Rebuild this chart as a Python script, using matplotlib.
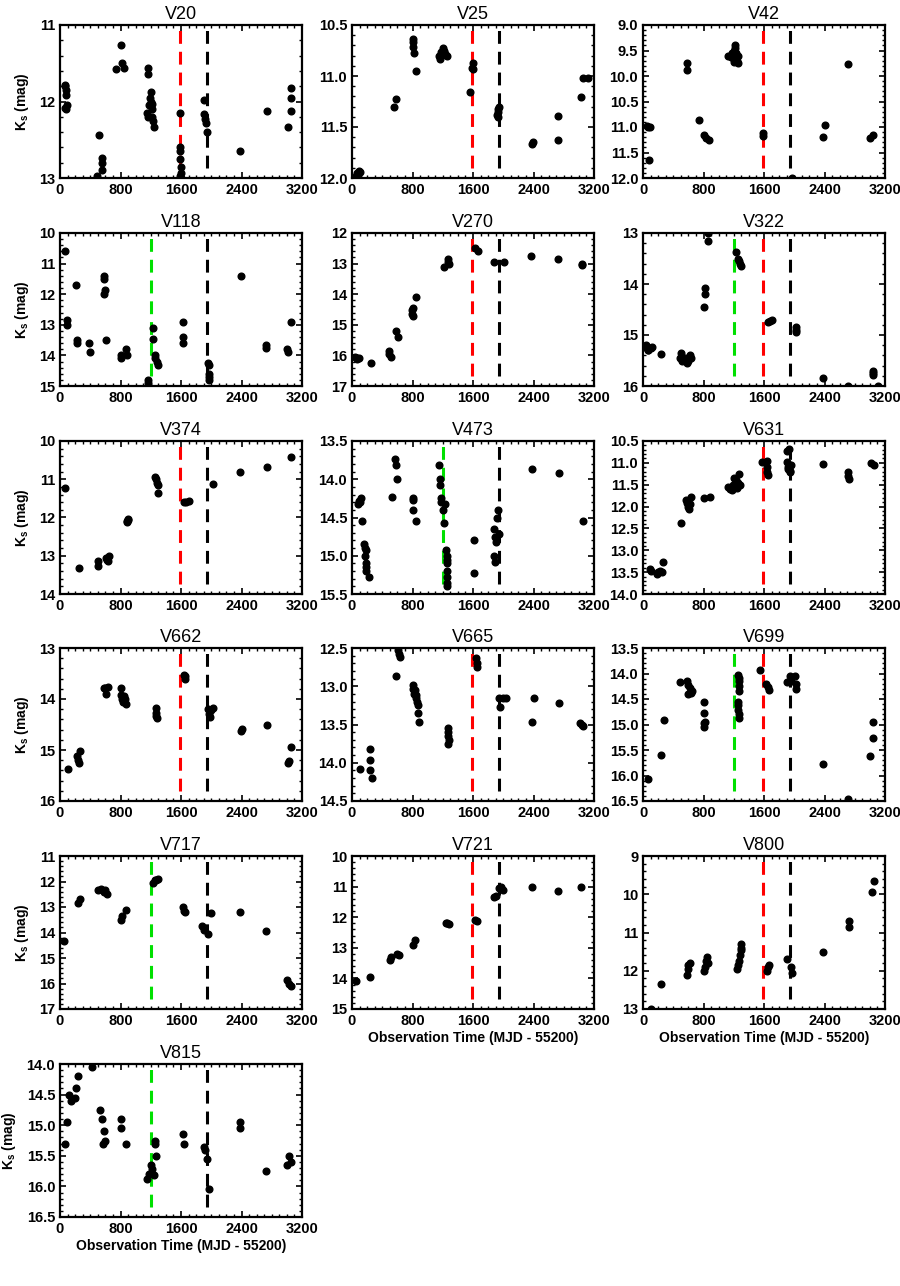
import matplotlib
matplotlib.use("Agg")
import matplotlib.pyplot as plt
from matplotlib.ticker import MultipleLocator, FormatStrFormatter

plt.rcParams['font.family'] = ['Liberation Sans', 'DejaVu Sans']
plt.rcParams['mathtext.fontset'] = 'custom'
plt.rcParams['mathtext.rm'] = 'Liberation Sans'
plt.rcParams['mathtext.bf'] = 'Liberation Sans:bold'

# ---------------- data ----------------
names = ["V20", "V25", "V42", "V118", "V270", "V322", "V374", "V473", "V631",
         "V662", "V665", "V699", "V717", "V721", "V800", "V815"]

v20_t = [60, 70, 80, 85, 90, 75, 65, 520, 560, 560, 555, 490, 735, 800, 820, 850,
         1170, 1170, 1200, 1190, 1200, 1210, 1180, 1150, 1160, 1220, 1230, 1240, 1210,
         1585, 1590, 1590, 1590, 1595, 1595, 1600, 1585,
         1910, 1910, 1915, 1925, 1940, 2380, 2735, 3010, 3050, 3050, 3050]
v20_k = [12.08, 11.78, 11.85, 11.92, 12.05, 12.1, 11.8, 12.44, 12.74, 12.8, 12.9, 12.98, 11.58, 11.26, 11.5, 11.56,
         11.56, 11.64, 11.88, 11.95, 12.0, 12.03, 12.05, 12.15, 12.2, 12.2, 12.25, 12.33, 12.1,
         12.15, 12.6, 12.65, 12.75, 12.85, 12.93, 13.0, 12.98,
         11.98, 12.16, 12.23, 12.28, 12.4, 12.65, 12.13, 12.33, 11.82, 11.95, 12.12]

v25_t = [50, 70, 90, 100, 60, 80, 555, 585, 800, 805, 810, 815, 850,
         1150, 1170, 1190, 1200, 1210, 1220, 1240, 1260, 1180,
         1565, 1600, 1600, 1590, 1925, 1935, 1920, 1930, 1940,
         2375, 2390, 2730, 2730, 3025, 3055, 3120]
v25_k = [11.98, 11.95, 11.93, 11.94, 12.0, 11.97, 11.3, 11.23, 10.64, 10.67, 10.72, 10.77, 10.95,
         10.8, 10.83, 10.78, 10.73, 10.75, 10.76, 10.79, 10.8, 10.76,
         11.16, 10.87, 10.93, 10.92, 11.32, 11.35, 11.38, 11.4, 11.3,
         11.67, 11.65, 11.39, 11.63, 11.21, 11.02, 11.02]

v42_t = [65, 90, 80, 50, 580, 585, 740, 805, 830, 875,
         1130, 1160, 1180, 1190, 1200, 1210, 1220, 1230, 1240, 1250, 1220, 1200, 1260,
         1590, 1590, 1975, 2375, 2410, 2715, 3000, 3045]
v42_k = [11.0, 11.0, 11.65, 10.99, 9.74, 9.89, 10.86, 11.15, 11.22, 11.25,
         9.6, 9.62, 9.55, 9.65, 9.5, 9.45, 9.4, 9.55, 9.7, 9.75, 9.65, 9.72, 9.6,
         11.18, 11.12, 12.0, 11.2, 10.97, 9.77, 11.22, 11.15]

v118_t = [60, 90, 90, 210, 225, 225, 380, 400, 580, 580, 590, 580, 610, 800, 810, 870, 880,
          1165, 1170, 1160, 1230, 1230, 1250, 1260, 1280, 1290, 1630, 1630, 1630,
          1960, 1970, 1970, 1975, 1975, 2390, 2730, 2730, 3000, 3010, 3060]
v118_k = [10.6, 12.85, 13.0, 11.7, 13.5, 13.6, 13.6, 13.9, 11.4, 11.5, 11.85, 12.0, 13.5, 14.0, 14.1, 13.8, 14.0,
          14.8, 14.9, 15.0, 13.1, 13.45, 14.0, 14.1, 14.2, 14.3, 12.9, 13.4, 13.6,
          14.25, 14.3, 14.6, 14.7, 14.8, 11.4, 13.65, 13.75, 13.8, 13.9, 12.9]

v270_t = [45, 70, 90, 60, 255, 485, 495, 515, 585, 605, 790, 795, 800, 805, 850,
          1215, 1275, 1285, 1270, 1630, 1665, 1875, 2015, 2370, 2720, 3045, 3045]
v270_k = [16.05, 16.1, 16.1, 16.12, 16.25, 15.85, 15.95, 16.05, 15.2, 15.4, 14.5, 14.65, 14.7, 14.45, 14.1,
          13.1, 12.85, 13.0, 12.95, 12.5, 12.6, 12.95, 12.95, 12.75, 12.85, 13.0, 13.05]

v322_t = [40, 50, 70, 100, 120, 60, 235, 490, 500, 520, 560, 580, 620, 630, 600,
          805, 820, 820, 860, 860, 1235, 1260, 1270, 1280, 1290, 1655, 1680, 1700,
          2020, 2025, 2020, 2385, 2715, 3045, 3045, 3045, 3110]
v322_k = [15.2, 15.25, 15.3, 15.25, 15.24, 15.3, 15.38, 15.45, 15.35, 15.5, 15.45, 15.55, 15.4, 15.45, 15.5,
          14.46, 14.07, 14.2, 13.0, 13.15, 13.38, 13.5, 13.55, 13.6, 13.65, 14.75, 14.72, 14.7,
          14.85, 14.9, 14.95, 15.85, 16.0, 15.7, 15.78, 15.75, 16.0]

v374_t = [65, 255, 500, 500, 605, 620, 640, 650, 880, 895, 905, 890,
          1255, 1270, 1280, 1290, 1300, 1645, 1665, 1700, 2025, 2380, 2735, 3060]
v374_k = [11.24, 13.32, 13.14, 13.28, 13.05, 13.1, 13.15, 13.0, 12.1, 12.06, 12.05, 12.12,
          10.95, 11.0, 11.1, 11.15, 11.35, 11.6, 11.6, 11.58, 11.13, 10.8, 10.67, 10.43]

v473_t = [90, 110, 125, 80, 130, 165, 170, 180, 175, 180, 185, 190, 220,
          535, 575, 580, 600, 800, 805, 850, 810,
          1145, 1165, 1170, 1175, 1180, 1200, 1215, 1230,
          1240, 1250, 1260, 1250, 1260, 1250, 1260, 1255, 1610, 1610,
          1880, 1895, 1900, 1880, 1895, 1920, 1930, 1940, 2375, 2735, 3060]
v473_k = [14.28, 14.3, 14.25, 14.32, 14.55, 14.85, 14.9, 14.92, 15.0, 15.1, 15.15, 15.2, 15.28,
          14.23, 13.74, 13.82, 14.0, 14.25, 14.4, 14.55, 14.27,
          13.82, 14.0, 14.08, 14.25, 14.3, 14.4, 14.57, 14.32,
          14.92, 15.0, 15.05, 15.1, 15.2, 15.28, 15.35, 15.4, 14.8, 15.22,
          14.65, 14.75, 14.82, 15.0, 15.08, 14.5, 14.4, 14.72, 13.87, 13.92, 14.55]

v631_t = [90, 100, 190, 200, 230, 245, 270, 500, 570, 580, 600, 610, 620, 630, 805, 880,
          1120, 1150, 1180, 1190, 1200, 1220, 1260, 1270, 1280, 1240, 1230,
          1580, 1635, 1640, 1645, 1650, 1905, 1930, 1905, 1920, 1915, 1960, 1950, 1940,
          2375, 2710, 2715, 2720, 3020, 3050]
v631_k = [13.43, 13.47, 13.55, 13.5, 13.47, 13.5, 13.26, 12.38, 11.85, 11.92, 12.0, 12.05, 11.95, 11.77, 11.8, 11.77,
          11.55, 11.6, 11.62, 11.5, 11.35, 11.55, 11.45, 11.25, 11.5, 11.58, 11.4,
          10.98, 10.95, 11.1, 11.22, 11.28, 10.73, 10.68, 10.97, 11.1, 11.15, 11.05, 11.2, 11.18,
          11.02, 11.2, 11.3, 11.38, 11.0, 11.05]

v662_t = [100, 230, 240, 250, 260, 580, 600, 610, 640, 800, 810, 820, 830, 850, 870, 860,
          1265, 1270, 1280, 1275, 1645, 1650, 1655, 1960, 1995, 2020, 1980, 1970,
          2390, 2400, 2735, 3010, 3030, 3060]
v662_k = [15.37, 15.12, 15.2, 15.25, 15.02, 13.78, 13.78, 13.9, 13.77, 13.78, 13.92, 14.0, 14.05, 13.95, 14.1, 14.0,
          14.18, 14.28, 14.38, 14.33, 13.52, 13.6, 13.55, 14.2, 14.22, 14.18, 14.35, 14.3,
          14.62, 14.58, 14.5, 15.25, 15.22, 14.95]

v665_t = [100, 235, 240, 240, 270, 580, 610, 615, 630,
          800, 810, 820, 830, 840, 850, 870, 875, 880, 860,
          1265, 1275, 1270, 1280, 1265, 1640, 1650, 1655,
          1950, 1960, 2000, 2030, 2380, 2410, 2735, 3020, 3040, 3055]
v665_k = [14.08, 13.82, 13.97, 14.1, 14.2, 12.87, 12.53, 12.58, 12.62,
          12.98, 13.03, 13.1, 13.05, 13.12, 13.15, 13.25, 13.35, 13.47, 13.2,
          13.55, 13.6, 13.65, 13.7, 13.75, 12.63, 12.7, 12.75,
          13.15, 13.27, 13.15, 13.15, 13.47, 13.16, 13.22, 13.48, 13.5, 13.52]

v699_t = [65, 235, 275, 495, 585, 595, 600, 620, 650, 630, 805, 810, 810, 800, 815,
          1260, 1270, 1275, 1270, 1265, 1250, 1260, 1265, 1270, 1255,
          1545, 1630, 1650, 1660, 1905, 1940, 1960, 2010, 2020, 2020,
          2375, 2715, 3000, 3045, 3045]
v699_k = [16.07, 15.6, 14.92, 14.17, 14.15, 14.22, 14.4, 14.28, 14.35, 14.38, 14.55, 14.77, 14.97, 15.05, 14.95,
          14.02, 14.08, 14.15, 14.25, 14.35, 14.55, 14.72, 14.8, 14.87, 14.62,
          13.93, 14.2, 14.27, 14.32, 14.17, 14.05, 14.15, 14.05, 14.2, 14.3,
          15.77, 16.47, 15.62, 15.27, 14.95]

v717_t = [55, 235, 270, 500, 540, 580, 600, 620, 800, 820, 870,
          1230, 1260, 1290, 1270, 1630, 1640, 1650, 1880, 1900, 1960, 2000,
          2380, 2720, 3000, 3030, 3050]
v717_k = [14.35, 12.85, 12.7, 12.35, 12.3, 12.4, 12.35, 12.5, 13.5, 13.35, 13.1,
          12.05, 11.95, 11.9, 11.95, 13.0, 13.15, 13.2, 13.75, 13.9, 14.05, 13.25,
          13.2, 13.95, 15.85, 16.0, 16.1]

v721_t = [55, 235, 500, 520, 600, 620, 810, 830, 1240, 1260, 1280, 1620, 1650,
          1880, 1900, 1940, 1970, 2000, 2380, 2720, 3030]
v721_k = [14.1, 13.95, 13.4, 13.3, 13.2, 13.25, 12.9, 12.75, 12.2, 12.18, 12.22, 12.1, 12.12,
          11.35, 11.3, 11.05, 11.0, 11.1, 11.0, 11.15, 11.0]

v800_t = [100, 235, 580, 590, 600, 620, 800, 820, 830, 840, 860,
          1240, 1260, 1270, 1280, 1290, 1300, 1290, 1640, 1650, 1660,
          1900, 1960, 1970, 2380, 2720, 2720, 3030, 3050]
v800_k = [13.0, 12.35, 12.1, 11.95, 11.85, 11.8, 12.0, 11.9, 11.75, 11.65, 11.8,
          11.95, 11.85, 11.75, 11.6, 11.45, 11.3, 11.4, 12.0, 11.9, 11.85,
          11.7, 11.9, 12.05, 11.5, 10.7, 10.85, 9.95, 9.65]

v815_t = [60, 90, 120, 150, 200, 210, 235, 420, 530, 560, 580, 590, 570,
          800, 810, 870, 1150, 1180, 1200, 1220, 1240, 1250, 1260, 1270,
          1620, 1640, 1900, 1920, 1950, 1970, 2380, 2380, 2720, 3000, 3030, 3060]
v815_k = [15.3, 14.95, 14.5, 14.6, 14.55, 14.4, 14.2, 14.05, 14.75, 14.9, 15.1, 15.25, 15.3,
          14.9, 15.05, 15.3, 15.88, 15.8, 15.65, 15.72, 15.82, 15.3, 15.25, 15.5,
          15.15, 15.3, 15.35, 15.4, 15.55, 16.05, 14.95, 15.05, 15.75, 15.65, 15.5, 15.6]

times = [v20_t, v25_t, v42_t, v118_t, v270_t, v322_t, v374_t, v473_t, v631_t,
         v662_t, v665_t, v699_t, v717_t, v721_t, v800_t, v815_t]
mags = [v20_k, v25_k, v42_k, v118_k, v270_k, v322_k, v374_k, v473_k, v631_k,
        v662_k, v665_k, v699_k, v717_k, v721_k, v800_k, v815_k]

# y-axis limits (bright, faint) and major step
y_bright = [11, 10.5, 9.0, 10, 12, 13, 10, 13.5, 10.5, 13, 12.5, 13.5, 11, 10, 9, 14.0]
y_faint = [13, 12.0, 12.0, 15, 17, 16, 14, 15.5, 14.0, 16, 14.5, 16.5, 17, 15, 13, 16.5]
y_step = [1, 0.5, 0.5, 1, 1, 1, 1, 0.5, 0.5, 1, 0.5, 0.5, 1, 1, 1, 0.5]

# event epochs marked by dashed lines
epoch_green = 1205
epoch_red = 1590
epoch_black = 1945
lines_per_panel = [["r", "k"], ["r", "k"], ["r", "k"], ["g", "k"], ["r", "k"], ["g", "r", "k"],
                   ["r", "k"], ["g", "k"], ["r", "k"], ["r", "k"], ["r", "k"], ["g", "r", "k"],
                   ["g", "k"], ["r", "k"], ["r", "k"], ["g", "k"]]

x_ticks = [0, 800, 1600, 2400, 3200]

# ---------------- figure ----------------
fig = plt.figure(figsize=(9.0, 12.86), dpi=100)
W, H = 900.0, 1286.0
col_left = [60, 352, 643]
row_top = [25, 233, 441, 648, 856, 1064]
ax_w, ax_h = 242, 153

line_colors = {"g": "#00e000", "r": "#ff0000", "k": "#000000"}
line_x = {"g": epoch_green, "r": epoch_red, "k": epoch_black}

for i, name in enumerate(names):
    r, c = divmod(i, 3)
    left = col_left[c] / W
    bottom = (H - row_top[r] - ax_h) / H
    ax = fig.add_axes([left, bottom, ax_w / W, ax_h / H])
    for key in lines_per_panel[i]:
        ax.axvline(line_x[key], ymin=0.065, ymax=1.0, color=line_colors[key],
                   lw=2.2, linestyle=(0, (4.2, 2.6)), zorder=1)
    ax.plot(times[i], mags[i], 'o', color='black', ms=4.8, mec='black', zorder=3)
    ax.set_xlim(0, 3200)
    ax.set_ylim(y_faint[i], y_bright[i])
    ax.set_xticks(x_ticks)
    ax.xaxis.set_minor_locator(MultipleLocator(100))
    ax.yaxis.set_major_locator(MultipleLocator(y_step[i]))
    ax.yaxis.set_minor_locator(MultipleLocator(y_step[i] / 5))
    if y_step[i] < 1:
        ax.yaxis.set_major_formatter(FormatStrFormatter('%.1f'))
    else:
        ax.yaxis.set_major_formatter(FormatStrFormatter('%d'))
    ax.tick_params(which='both', direction='in', top=True, right=True,
                   labelsize=10.5)
    ax.tick_params(which='major', length=4.5, width=1.2)
    ax.tick_params(which='minor', length=2.2, width=1.0)
    for lab in ax.get_xticklabels() + ax.get_yticklabels():
        lab.set_fontweight('bold')
    for sp in ax.spines.values():
        sp.set_linewidth(1.6)
    ax.set_title(name, fontsize=13, pad=4)
    if c == 0:
        ax.set_ylabel(r"K$_\mathbf{s}$ (mag)", fontsize=10, fontweight='bold', labelpad=6)
    if i >= 13:
        ax.set_xlabel("Observation Time (MJD - 55200)", fontsize=10, fontweight='bold', labelpad=2)

fig.savefig("out.png", dpi=100)
